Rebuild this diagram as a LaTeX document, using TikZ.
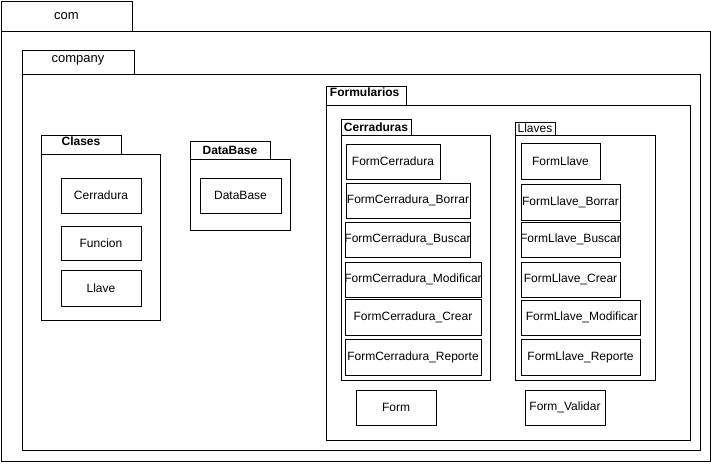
\documentclass[tikz,border=0pt]{standalone}
\usepackage{fontspec}
\setmainfont{Liberation Sans}
\usetikzlibrary{fit}
\newcommand\pk[7][]{\node[box, fit={(#3,#4) (#5,#6)}, label={[#1]center:#7}] (#2) {};}
\begin{document}
\begin{tikzpicture}[x=0.75pt,y=-0.75pt,
  every node/.style={font=\fontsize{9}{11}\selectfont},
  box/.style={draw, line width=0.75pt, inner sep=0pt, fill=white},
  big/.style={font=\fontsize{9.75}{12}\selectfont},
  tab/.style={font=\fontsize{9}{11}\selectfont\bfseries}]
\useasboundingbox[fill=white] (0,0) rectangle (711,471);
% com
\pk[big]{comtab}{1}{1}{132}{31}{com}
\pk{combody}{1}{31}{710}{461}{}
% company
\pk[big,yshift=1.5pt]{companytab}{22}{50}{134}{74}{company}
\pk{companybody}{22}{74}{700}{450}{}
% Formularios
\pk[tab,yshift=2.5pt,xshift=-1pt]{formtab}{326}{86}{406}{105}{Formularios}
\pk{formbody}{326}{105}{690}{440}{}
% Cerraduras
\pk[tab]{cerrtab}{341}{119}{411}{135}{Cerraduras}
\pk{cerrbody}{341}{135}{490}{380}{}
\pk{fc}{346}{144}{440}{179}{FormCerradura}
\pk{fcborrar}{346}{183}{470}{218}{FormCerradura\_Borrar}
\pk{fcbuscar}{345}{222}{470}{257}{FormCerradura\_Buscar}
\pk{fcmod}{345}{262}{481}{297}{FormCerradura\_Modificar}
\pk{fccrear}{345}{299}{481}{335}{FormCerradura\_Crear}
\pk{fcrep}{345}{339}{481}{375}{FormCerradura\_Reporte}
% Llaves
\pk{llavtab}{515}{122}{555}{135}{Llaves}
\pk{llavbody}{515}{135}{655}{380}{}
\pk{fl}{521}{143}{600}{179}{FormLlave}
\pk{flborrar}{521}{184}{620}{220}{FormLlave\_Borrar}
\pk{flbuscar}{521}{222}{620}{257}{FormLlave\_Buscar}
\pk{flcrear}{521}{262}{620}{297}{FormLlave\_Crear}
\pk[xshift=1pt]{flmod}{521}{300}{640}{335}{FormLlave\_Modificar}
\pk{flrep}{521}{339}{640}{375}{FormLlave\_Reporte}
% Form, Form_Validar
\pk{form}{356}{390}{436}{425}{Form}
\pk{formval}{525}{390}{605}{425}{Form\_Validar}
% Clases
\pk[tab,yshift=2.5pt]{clasestab}{41}{135}{121}{154}{Clases}
\pk{clasesbody}{41}{154}{160}{320}{}
\pk{cerradura}{61}{178}{141}{213}{Cerradura}
\pk{funcion}{61}{226}{141}{260}{Funcion}
\pk{llave}{61}{270}{141}{306}{Llave}
% DataBase
\pk[tab]{dbtab}{190}{141}{270}{159}{DataBase}
\pk{dbbody}{190}{159}{290}{230}{}
\pk{db}{200}{178}{281}{213}{DataBase}
\end{tikzpicture}
\end{document}
